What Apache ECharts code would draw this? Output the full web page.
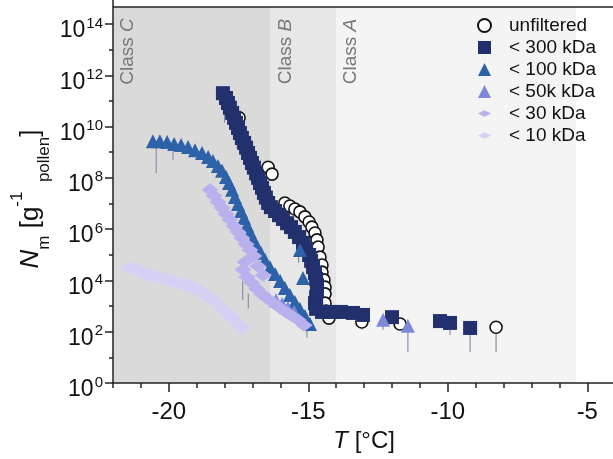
<!DOCTYPE html>
<html><head><meta charset="utf-8">
<script src="https://cdn.jsdelivr.net/npm/echarts@6/dist/echarts.min.js"></script>
<style>html,body{margin:0;padding:0;background:#fff}#c{width:613px;height:459px}</style>
</head><body><div id="c"></div>
<script>
const FONT = '"Liberation Sans", Arial, Helvetica, sans-serif';

// ---- data (T in °C, N in g^-1 pollen) ----
const T_UNF = [-17.73,-17.48,-16.44,-16.30,-15.84,-15.66,-15.48,-15.30,-15.12,-14.97,-14.87,-14.76,-14.69,-14.65,-14.58,-14.51,-14.51,-14.44,-14.40,-14.40,-14.40,-14.37,-14.26,-13.08,-11.71,-8.27];
const N_UNF = [3.1e10,2.2e10,2.6e8,1.4e8,1.05e7,8.0e6,6.1e6,4.7e6,3.0e6,1.9e6,1.2e6,7.1e5,3.8e5,2.0e5,8.1e4,4.0e4,2.1e4,1.05e4,5.5e3,3.0e3,1.3e3,6.4e2,3.4e2,2.4e2,2.0e2,1.5e2];

const T_300 = [-18.06,-17.95,-17.88,-17.81,-17.73,-17.66,-17.59,-17.52,-17.45,-17.38,-17.30,-17.23,-17.16,-17.09,-17.02,-16.95,-16.87,-16.80,-16.73,-16.66,-16.59,-16.52,-16.44,-16.34,-16.19,-16.05,-15.91,-15.76,-15.62,-15.48,-15.33,-15.19,-15.08,-14.97,-14.90,-14.83,-14.76,-14.72,-14.69,-14.69,-14.72,-14.76,-14.72,-14.51,-14.11,-13.83,-13.40,-13.04,-12.00,-10.28,-9.92,-9.20];
const N_300 = [2.0e11,1.3e11,8.3e10,5.4e10,3.4e10,2.2e10,1.4e10,8.9e9,5.6e9,3.6e9,2.3e9,1.5e9,9.3e8,6.0e8,3.8e8,2.5e8,1.5e8,1.0e8,6.3e7,4.1e7,2.6e7,1.7e7,1.05e7,7.2e6,5.1e6,3.5e6,2.5e6,1.7e6,1.2e6,7.8e5,4.9e5,2.9e5,1.7e5,9.8e4,5.8e4,3.3e4,1.95e4,1.15e4,6.6e3,3.9e3,2.2e3,1.3e3,7.8e2,5.9e2,5.9e2,5.9e2,5.4e2,4.5e2,3.7e2,2.6e2,2.2e2,1.4e2];

const T_100 = [-20.57,-20.32,-20.06,-19.81,-19.56,-19.31,-19.06,-18.81,-18.59,-18.42,-18.24,-18.09,-17.95,-17.84,-17.73,-17.63,-17.52,-17.41,-17.30,-17.20,-17.09,-16.98,-16.84,-16.70,-16.55,-16.37,-16.19,-16.01,-15.84,-15.66,-15.48,-15.30,-15.12,-14.94,-15.30,-15.19];
const N_100 = [2.7e9,2.7e9,2.5e9,2.1e9,1.9e9,1.6e9,1.2e9,9.3e8,6.5e8,4.5e8,2.9e8,1.9e8,1.07e8,6.3e7,3.4e7,1.8e7,9.6e6,5.1e6,2.7e6,1.45e6,7.8e5,4.1e5,2.2e5,1.2e5,6.3e4,3.3e4,1.8e4,9.5e3,5.1e3,2.7e3,1.45e3,7.7e2,4.1e2,2.0e2,1.55e5,1.25e4];

const T_50K = [-16.16,-15.94,-15.73,-15.51,-12.32,-11.43];
const N_50K = [1.7e3,1.2e3,8.5e2,5.9e2,2.9e2,1.7e2];

const T_30 = [-18.52,-18.38,-18.24,-18.09,-17.95,-17.81,-17.66,-17.52,-17.38,-17.23,-17.09,-16.95,-17.27,-17.34,-17.20,-17.02,-16.84,-16.66,-16.44,-16.23,-16.01,-15.80,-15.58,-15.37,-15.15,-16.80,-16.62];
const N_30 = [3.4e7,2.0e7,1.15e7,6.7e6,3.9e6,2.3e6,1.3e6,7.8e5,4.5e5,2.6e5,1.55e5,9.0e4,5.2e4,2.6e4,1.35e4,7.9e3,4.6e3,2.9e3,1.9e3,1.3e3,8.5e2,5.9e2,4.1e2,2.9e2,1.8e2,3.6e4,1.6e4];

const T_10 = [-21.39,-21.14,-20.89,-20.64,-20.39,-20.14,-19.89,-19.63,-19.38,-19.13,-18.88,-18.67,-18.45,-18.24,-18.06,-17.88,-17.70,-17.52,-17.38];
const N_10 = [3.1e4,2.6e4,1.95e4,1.6e4,1.35e4,1.15e4,9.5e3,7.9e3,6.6e3,5.1e3,3.9e3,2.7e3,1.9e3,1.2e3,7.7e2,4.9e2,3.2e2,2.0e2,1.4e2];

// error bars (downward)
const ERR_T  = [-20.45,-19.85,-18.0,-17.55,-17.35,-17.15,-15.35,-15.05,-13.08,-12.32,-11.43,-10.28,-9.92,-9.20,-8.27];
const ERR_HI = [2.7e9,2.1e9,1.3e11,5.0e9,1.0e4,3.0e3,1.2e5,2.0e2,2.4e2,2.9e2,1.7e2,2.6e2,2.2e2,1.4e2,1.5e2];
const ERR_LO = [1.5e8,5.0e8,1.4e10,1.5e9,1.7e3,8.0e2,4.8e4,6.0e1,1.2e2,1.2e2,1.6e1,1.4e2,7.4e1,1.6e1,1.6e1];

// freezing classes
const CLASS_BOUNDS = [-22, -16.35, -14.0, -5.4];
const CLASS_NAMES = ['C', 'B', 'A'];
const CLASS_COLORS = ['#dadada', '#e7e7e7', '#f4f4f4'];
const FRAME_TOP = 4.6e14;

// axes: y is drawn in decades (exponent of 10)
const X_MAJOR = [-20, -15, -10, -5];
const Y_MIN_EXP = 0, Y_MAX_EXP = 15, Y_LABEL_MAX_EXP = 14;

const SERIES_NAMES = ['unfiltered', '< 300 kDa', '< 100 kDa', '< 50k kDa', '< 30 kDa', '< 10 kDa'];

const lg = Math.log10;
const zip = (a, b) => a.map((v, i) => [v, lg(b[i])]);
const DIAMOND = 'path://M0,5L10,0L20,5L10,10Z';

const chart = echarts.init(document.getElementById('c'), null, {renderer: 'canvas'});

const axisLineStyle = {color: '#222', width: 1.5};

const option = {
  animation: false,
  backgroundColor: '#fff',
  grid: {left: 113, right: -2.2, top: -1.64, bottom: 76, containLabel: false, outerBoundsMode: 'none'},
  legend: {
    orient: 'vertical', left: 477, top: 16, padding: 0,
    itemWidth: 13, itemHeight: 13, itemGap: 3,
    symbolKeepAspect: true,
    textStyle: {fontSize: 19, fontFamily: FONT, color: '#111', padding: [0, 0, 0, 13]},
    data: [
      {name: SERIES_NAMES[0], icon: 'circle'},
      {name: SERIES_NAMES[1], icon: 'rect'},
      {name: SERIES_NAMES[2], icon: 'triangle'},
      {name: SERIES_NAMES[3], icon: 'triangle'},
      {name: SERIES_NAMES[4], icon: DIAMOND},
      {name: SERIES_NAMES[5], icon: DIAMOND}
    ]
  },
  xAxis: [
    {
      type: 'value', min: -22, max: -4, interval: 1, position: 'bottom', z: 10,
      axisLine: {show: true, onZero: false, lineStyle: axisLineStyle},
      axisTick: {show: true, length: 5, lineStyle: axisLineStyle},
      axisLabel: {formatter: v => (Math.abs(v % 5) < 1e-9 ? String(v) : ''), fontSize: 24, color: '#111', fontFamily: FONT, margin: 17},
      splitLine: {show: false},
      name: '{i|T}{n| [°C]}', nameLocation: 'middle', nameGap: 45,
      nameTextStyle: {rich: {
        i: {fontSize: 24, fontStyle: 'italic', fontFamily: FONT, color: '#111'},
        n: {fontSize: 24, fontFamily: FONT, color: '#111'}
      }}
    },
    {
      type: 'value', min: -22, max: -4, position: 'bottom', z: 10,
      axisLine: {show: false, onZero: false},
      axisTick: {show: true, length: 9, customValues: X_MAJOR, lineStyle: axisLineStyle},
      axisLabel: {show: false},
      splitLine: {show: false}
    }
  ],
  yAxis: [
    {
      type: 'value', min: Y_MIN_EXP, max: Y_MAX_EXP, interval: 1, z: 10,
      axisLine: {show: true, onZero: false, lineStyle: axisLineStyle},
      axisTick: {show: true, length: 4, lineStyle: axisLineStyle},
      axisLabel: {show: false},
      splitLine: {show: false}
    },
    {
      type: 'value', min: Y_MIN_EXP, max: Y_MAX_EXP, interval: 2, z: 10, position: 'left',
      axisLine: {show: false, onZero: false},
      axisTick: {show: true, length: 8, lineStyle: axisLineStyle},
      axisLabel: {
        margin: 10,
        formatter: v => (v % 2 !== 0 || v > Y_LABEL_MAX_EXP) ? '' : '{b|10}{s|' + v + '}',
        rich: {
          b: {fontSize: 23, lineHeight: 23, padding: [14, 0, 0, 0], fontFamily: FONT, color: '#111'},
          s: {fontSize: 15, lineHeight: 15, padding: [3.5, 0, 0, 1], verticalAlign: 'top', fontFamily: FONT, color: '#111'}
        }
      },
      splitLine: {show: false}
    }
  ],
  series: [
    {
      type: 'scatter', name: '_bg', data: [], z: 1, silent: true,
      markArea: {
        silent: true,
        data: CLASS_NAMES.map((n, i) => [
          {xAxis: CLASS_BOUNDS[i], yAxis: Y_MIN_EXP, itemStyle: {color: CLASS_COLORS[i]}},
          {xAxis: CLASS_BOUNDS[i + 1], yAxis: lg(FRAME_TOP)}
        ])
      },
      markLine: {
        silent: true, symbol: ['none', 'none'], label: {show: false},
        lineStyle: {color: '#222', width: 1.5, type: 'solid'},
        data: [{yAxis: lg(FRAME_TOP)}]
      }
    },
    {
      type: 'custom', name: '_err', silent: true, z: 2,
      data: ERR_T.map((t, i) => [t, lg(ERR_HI[i]), lg(ERR_LO[i])]),
      encode: {x: 0, y: [1, 2]},
      renderItem: (params, api) => {
        const p1 = api.coord([api.value(0), api.value(1)]);
        const p2 = api.coord([api.value(0), api.value(2)]);
        return {type: 'line', shape: {x1: p1[0], y1: p1[1], x2: p2[0], y2: p2[1]},
          style: {stroke: '#8a90aa', lineWidth: 1.2}};
      }
    },
    {
      type: 'scatter', name: SERIES_NAMES[0], data: zip(T_UNF, N_UNF), z: 3,
      symbol: 'circle', symbolSize: 12,
      itemStyle: {color: '#ffffff', borderColor: '#111', borderWidth: 1.6, opacity: 1}
    },
    {
      type: 'scatter', name: SERIES_NAMES[1], data: zip(T_300, N_300), z: 4,
      symbol: 'rect', symbolSize: 14,
      itemStyle: {color: '#22306e', opacity: 1}
    },
    {
      type: 'scatter', name: SERIES_NAMES[2], data: zip(T_100, N_100), z: 5,
      symbol: 'triangle', symbolSize: 14,
      itemStyle: {color: '#2d62a8', opacity: 1}
    },
    {
      type: 'scatter', name: SERIES_NAMES[3], data: zip(T_50K, N_50K), z: 6,
      symbol: 'triangle', symbolSize: 14,
      itemStyle: {color: '#7d88d8', opacity: 1}
    },
    {
      type: 'scatter', name: SERIES_NAMES[4], data: zip(T_30, N_30), z: 7,
      symbol: 'diamond', symbolSize: [17, 13],
      itemStyle: {color: '#b8b1ee', opacity: 1}
    },
    {
      type: 'scatter', name: SERIES_NAMES[5], data: zip(T_10, N_10), z: 8,
      symbol: 'diamond', symbolSize: [18, 14],
      itemStyle: {color: '#d6d0f5', opacity: 1}
    }
  ]
};

chart.setOption(option);

// class labels and y-axis title
const graphics = CLASS_NAMES.map((n, i) => {
  const x = chart.convertToPixel({xAxisIndex: 0}, CLASS_BOUNDS[i]) + 15;
  return {
    type: 'text', x: x, y: 51.5, rotation: Math.PI / 2, z: 20, silent: true,
    style: {
      text: '{a|Class }{b|' + n + '}', align: 'center', verticalAlign: 'middle',
      rich: {
        a: {fontSize: 19, fontFamily: FONT, fill: '#777'},
        b: {fontSize: 19, fontFamily: FONT, fontStyle: 'italic', fill: '#777'}
      }
    }
  };
});
graphics.push({
  type: 'text', x: 31, y: 199, rotation: Math.PI / 2, z: 20, silent: true,
  style: {
    text: '{i|N}{sub|m}{n| [g}{sup|-1}{sub|  pollen}{n|]}',
    align: 'center', verticalAlign: 'middle',
    rich: {
      i: {fontSize: 26, fontStyle: 'italic', lineHeight: 44, fontFamily: FONT, fill: '#111'},
      n: {fontSize: 26, lineHeight: 44, fontFamily: FONT, fill: '#111'},
      sup: {fontSize: 17, lineHeight: 11, verticalAlign: 'top', fontFamily: FONT, fill: '#111'},
      sub: {fontSize: 17, lineHeight: 36, verticalAlign: 'bottom', fontFamily: FONT, fill: '#111'}
    }
  }
});
chart.setOption({graphic: graphics});
</script></body></html>
